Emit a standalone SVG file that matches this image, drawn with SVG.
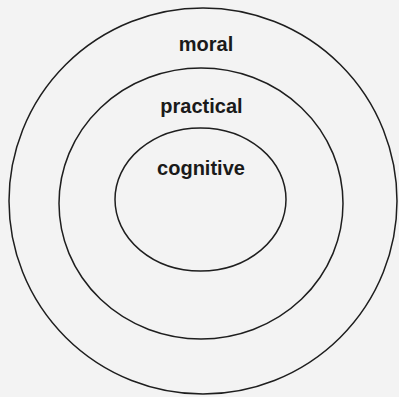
<svg xmlns="http://www.w3.org/2000/svg" width="399" height="397" viewBox="0 0 399 397">
<style>
.ring{fill:none;stroke:#1e1e1e;stroke-width:1.5}
.lbl{font-family:"Liberation Sans",Arial,sans-serif;font-weight:bold;font-size:20px;fill:#1a1a1a;text-anchor:middle}
</style>
<rect width="399" height="397" fill="#f3f3f3"/>
<g id="moral">
<ellipse class="ring" cx="203" cy="201" rx="194" ry="193"/>
<text class="lbl" x="206" y="51">moral</text>
</g>
<g id="practical">
<ellipse class="ring" cx="201" cy="203.5" rx="142" ry="135.5"/>
<text class="lbl" x="201.5" y="113">practical</text>
</g>
<g id="cognitive">
<ellipse class="ring" cx="200.5" cy="199.5" rx="85.5" ry="71.5"/>
<text class="lbl" x="201" y="174.5">cognitive</text>
</g>
<g id="connectors"/>
</svg>
